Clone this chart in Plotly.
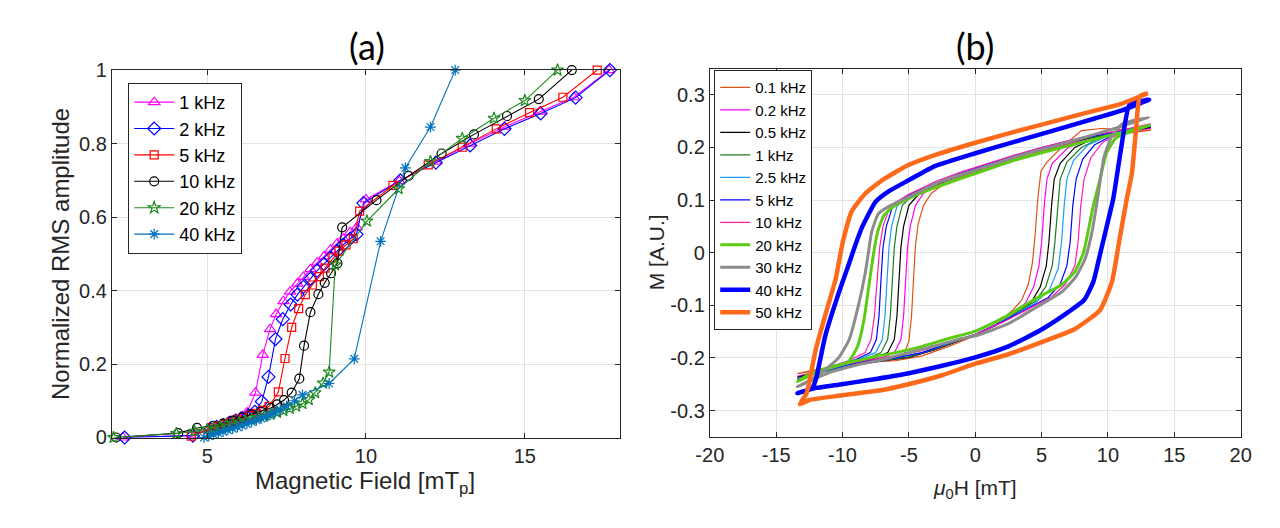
import plotly.graph_objects as go

# ---------- panel (a): normalized RMS amplitude vs field ----------
x_1k = [2.35, 4.6, 5.05, 5.25, 5.45, 5.65, 5.85, 6.05, 6.25, 6.52, 6.75, 6.98, 7.17, 7.4, 7.61, 7.84, 8.03,
        8.25, 8.46, 8.68, 8.88, 9.09, 9.28, 9.5, 9.71, 10.0, 11.05, 12.2, 13.28, 14.37, 15.48, 16.55, 17.65]
y_1k = [0.0, 0.006, 0.024, 0.029, 0.035, 0.041, 0.048, 0.056, 0.068, 0.122, 0.225, 0.295, 0.336, 0.371, 0.397,
        0.419, 0.437, 0.458, 0.476, 0.493, 0.511, 0.528, 0.541, 0.559, 0.572, 0.648, 0.698, 0.751, 0.8, 0.846,
        0.887, 0.926, 1.0]
x_2k = [2.4, 4.55, 5.1, 5.3, 5.5, 5.7, 5.9, 6.1, 6.3, 6.5, 6.72, 6.93, 7.15, 7.38, 7.63, 7.84, 8.03, 8.25, 8.46,
        8.68, 8.88, 9.09, 9.28, 9.5, 9.7, 9.92, 11.08, 12.2, 13.28, 14.36, 15.5, 16.6, 17.68]
y_2k = [0.0, 0.005, 0.024, 0.029, 0.034, 0.04, 0.046, 0.053, 0.06, 0.07, 0.098, 0.165, 0.268, 0.322, 0.362,
        0.389, 0.41, 0.432, 0.454, 0.472, 0.489, 0.507, 0.524, 0.541, 0.553, 0.638, 0.7, 0.748, 0.795, 0.84,
        0.882, 0.925, 1.0]
x_5k = [4.5, 5.15, 5.35, 5.55, 5.75, 5.95, 6.15, 6.35, 6.55, 6.75, 6.95, 7.24, 7.45, 7.66, 7.88, 8.09, 8.31,
        8.53, 8.71, 8.96, 9.15, 9.37, 9.6, 9.8, 10.85, 11.96, 13.03, 14.1, 15.15, 16.2, 17.28]
y_5k = [0.004, 0.026, 0.031, 0.036, 0.042, 0.048, 0.054, 0.06, 0.066, 0.074, 0.085, 0.124, 0.215, 0.3, 0.351,
        0.389, 0.415, 0.438, 0.461, 0.489, 0.507, 0.524, 0.541, 0.616, 0.686, 0.742, 0.79, 0.84, 0.884, 0.926, 1.0]
x_10k = [2.13, 4.09, 4.68, 5.2, 5.5, 5.8, 6.1, 6.4, 6.7, 7.0, 7.2, 7.42, 7.66, 7.9, 8.05, 8.25, 8.5, 8.7, 8.9,
         9.1, 9.25, 10.33, 11.34, 12.38, 13.4, 14.44, 15.44, 16.48]
y_10k = [0.0, 0.012, 0.026, 0.032, 0.038, 0.046, 0.054, 0.062, 0.07, 0.08, 0.09, 0.102, 0.122, 0.16, 0.25,
         0.341, 0.39, 0.421, 0.447, 0.474, 0.572, 0.646, 0.712, 0.773, 0.825, 0.875, 0.921, 1.0]
x_20k = [2.05, 4.03, 4.6, 5.0, 5.2, 5.4, 5.6, 5.8, 6.0, 6.2, 6.4, 6.6, 6.8, 7.0, 7.2, 7.4, 7.6, 7.8, 8.0, 8.2,
         8.4, 8.65, 8.84, 9.03, 10.03, 11.03, 12.03, 13.03, 14.03, 15.0, 16.03]
y_20k = [0.0, 0.011, 0.017, 0.022, 0.026, 0.03, 0.034, 0.038, 0.042, 0.046, 0.05, 0.054, 0.058, 0.063, 0.068,
         0.073, 0.079, 0.085, 0.092, 0.103, 0.122, 0.148, 0.178, 0.47, 0.589, 0.677, 0.751, 0.814, 0.869, 0.917, 1.0]
x_40k = [4.9, 5.05, 5.2, 5.35, 5.5, 5.65, 5.8, 5.95, 6.1, 6.25, 6.4, 6.55, 6.7, 6.85, 7.0, 7.15, 7.3, 7.5, 7.75,
         8.0, 8.84, 9.63, 10.46, 11.24, 12.03, 12.81]
y_40k = [0.0, 0.004, 0.008, 0.012, 0.016, 0.02, 0.024, 0.028, 0.032, 0.037, 0.042, 0.047, 0.052, 0.057, 0.063,
         0.069, 0.076, 0.086, 0.1, 0.116, 0.147, 0.214, 0.534, 0.734, 0.845, 1.0]

a_names = ["1 kHz", "2 kHz", "5 kHz", "10 kHz", "20 kHz", "40 kHz"]
a_xticks = [5, 10, 15]
a_yticks = [0, 0.2, 0.4, 0.6, 0.8, 1]
a_ylabels = ["0", "0.2", "0.4", "0.6", "0.8", "1"]

# ---------- panel (b): hysteresis loops (upper branch then lower branch) ----------
h_01k = [13.25, 11, 9, 7, 5, 3, 1, -1, -2.5, -3.3, -3.9, -4.3, -4.5, -4.65, -4.8, -5.0, -5.4, -6.5, -8, -10, -12, -13.4,
         -12, -10, -8, -6, -4, -2, 0, 1.5, 2.8, 3.5, 4.0, 4.3, 4.5, 4.7, 4.95, 5.4, 6.5, 8, 9.5, 11.5, 13.25]
m_01k = [0.233, 0.226, 0.217, 0.206, 0.193, 0.178, 0.162, 0.145, 0.128, 0.113, 0.09, 0.055, 0.015, -0.05, -0.12,
         -0.168, -0.195, -0.203, -0.21, -0.215, -0.222, -0.23,
         -0.224, -0.214, -0.208, -0.205, -0.196, -0.178, -0.158, -0.137, -0.11, -0.09, -0.06, -0.02, 0.03, 0.1,
         0.155, 0.172, 0.2, 0.232, 0.236, 0.234, 0.233]
h_02k = [13.2, 11, 9, 7, 5, 3, 1, -1, -3, -3.9, -4.5, -4.9, -5.1, -5.25, -5.4, -5.6, -6.1, -7, -9, -11, -13.4,
         -11, -9, -7, -5, -3, -1, 0, 1.5, 3, 3.8, 4.4, 4.8, 5.0, 5.2, 5.4, 5.8, 7, 9, 11, 13.2]
m_02k = [0.236, 0.228, 0.219, 0.208, 0.196, 0.181, 0.165, 0.148, 0.128, 0.113, 0.09, 0.05, 0.01, -0.05, -0.12,
         -0.165, -0.19, -0.2, -0.21, -0.22, -0.235,
         -0.222, -0.213, -0.206, -0.199, -0.184, -0.166, -0.156, -0.138, -0.115, -0.095, -0.065, -0.025, 0.02,
         0.09, 0.14, 0.17, 0.2, 0.22, 0.229, 0.236]
h_05k = [13.2, 11, 9, 7, 5, 3, 1, -1, -3, -4.2, -5, -5.4, -5.6, -5.75, -5.9, -6.1, -6.6, -7.5, -9, -11, -13.4,
         -11, -9, -7, -5, -3, -1, 0, 1.5, 3, 4.2, 4.9, 5.35, 5.55, 5.75, 5.95, 6.4, 7.5, 9, 11, 13.2]
m_05k = [0.238, 0.229, 0.22, 0.209, 0.196, 0.181, 0.165, 0.148, 0.129, 0.113, 0.09, 0.05, 0.01, -0.05, -0.12,
         -0.165, -0.19, -0.2, -0.208, -0.22, -0.237,
         -0.223, -0.212, -0.205, -0.199, -0.184, -0.166, -0.156, -0.139, -0.117, -0.095, -0.065, -0.025, 0.02,
         0.09, 0.14, 0.17, 0.2, 0.218, 0.229, 0.238]
h_1k = [13.2, 11, 9, 7, 5, 3, 1, -1, -3, -4.6, -5.5, -5.9, -6.1, -6.25, -6.4, -6.6, -7.1, -8, -9.5, -11, -13.4,
        -11, -9, -7, -5, -3, -1, 0, 1.5, 3, 4.5, 5.3, 5.8, 6.0, 6.2, 6.4, 6.9, 8, 9.5, 11, 13.2]
m_1k = [0.24, 0.23, 0.221, 0.21, 0.197, 0.182, 0.166, 0.149, 0.13, 0.112, 0.09, 0.05, 0.01, -0.05, -0.12, -0.165,
        -0.19, -0.2, -0.21, -0.221, -0.24,
        -0.224, -0.213, -0.205, -0.198, -0.183, -0.165, -0.155, -0.138, -0.116, -0.093, -0.065, -0.025, 0.02,
        0.09, 0.14, 0.172, 0.2, 0.22, 0.23, 0.24]
h_25k = [13.2, 11, 9, 7, 5, 3, 1, -1, -3, -5, -5.9, -6.3, -6.5, -6.65, -6.8, -7.0, -7.5, -8.5, -10, -11.5, -13.4,
         -11.5, -10, -8, -6, -4, -2, 0, 1.5, 3, 4.5, 5.6, 6.25, 6.5, 6.7, 6.9, 7.4, 8.5, 10, 11.5, 13.2]
m_25k = [0.241, 0.231, 0.222, 0.211, 0.198, 0.183, 0.167, 0.15, 0.131, 0.108, 0.088, 0.05, 0.01, -0.05, -0.12,
         -0.165, -0.19, -0.2, -0.212, -0.222, -0.24,
         -0.226, -0.216, -0.207, -0.2, -0.19, -0.172, -0.155, -0.138, -0.117, -0.096, -0.07, -0.03, 0.02, 0.09,
         0.14, 0.175, 0.205, 0.222, 0.232, 0.241]
h_5k = [13.2, 11, 9, 7, 5, 3, 1, -1, -3, -5, -6.2, -6.7, -6.95, -7.1, -7.25, -7.45, -7.9, -9, -10.5, -12, -13.4,
        -12, -10, -8, -6, -4, -2, 0, 2, 4, 5.5, 6.4, 6.9, 7.15, 7.35, 7.6, 8.1, 9, 10.5, 12, 13.2]
m_5k = [0.243, 0.232, 0.223, 0.212, 0.2, 0.185, 0.169, 0.152, 0.133, 0.11, 0.09, 0.05, 0.01, -0.05, -0.12,
        -0.165, -0.19, -0.203, -0.214, -0.225, -0.242,
        -0.228, -0.215, -0.206, -0.2, -0.19, -0.172, -0.155, -0.132, -0.105, -0.085, -0.06, -0.025, 0.02, 0.09,
        0.14, 0.178, 0.205, 0.225, 0.235, 0.243]
h_10k = [13.2, 11, 9, 7, 5, 3, 1, -1, -3, -5, -6.4, -6.95, -7.2, -7.4, -7.6, -7.85, -8.3, -9.5, -11, -12.3, -13.4,
         -12, -10, -8, -6, -4, -2, 0, 2, 4, 5.7, 6.8, 7.5, 7.75, 7.95, 8.2, 8.7, 9.6, 11, 12.2, 13.2]
m_10k = [0.245, 0.233, 0.224, 0.213, 0.2, 0.186, 0.17, 0.154, 0.135, 0.111, 0.09, 0.05, 0.01, -0.05, -0.12,
         -0.165, -0.19, -0.205, -0.217, -0.228, -0.243,
         -0.228, -0.214, -0.203, -0.196, -0.186, -0.17, -0.155, -0.133, -0.107, -0.085, -0.06, -0.025, 0.02,
         0.09, 0.14, 0.18, 0.21, 0.228, 0.238, 0.245]
h_20k = [13.1, 11, 9, 7, 5, 3, 1, -1, -3, -5, -6.2, -6.9, -7.35, -7.65, -8.0, -8.4, -8.9, -9.6, -11, -12.3, -13.4,
         -12, -10, -8, -6, -4, -2, 0, 2.1, 4.5, 6.5, 7.5, 8.15, 8.5, 8.9, 9.4, 9.9, 10.6, 12, 13.1]
m_20k = [0.242, 0.228, 0.216, 0.203, 0.19, 0.176, 0.159, 0.142, 0.124, 0.103, 0.087, 0.07, 0.04, 0.0, -0.06,
         -0.13, -0.18, -0.208, -0.218, -0.228, -0.245,
         -0.228, -0.212, -0.2, -0.19, -0.178, -0.163, -0.149, -0.124, -0.088, -0.061, -0.036, 0.0, 0.04, 0.09,
         0.14, 0.19, 0.218, 0.233, 0.242]
h_30k = [13.1, 11, 9, 7, 5, 3, 1, -1, -3, -5, -6.5, -7.3, -7.8, -8.05, -8.3, -8.8, -9.5, -10.3, -11.3, -12.3, -13.4,
         -12.3, -11, -9, -7, -5, -3, -1, 0, 2.5, 4.5, 6.5, 7.6, 8.3, 8.8, 9.2, 9.7, 10.3, 11.1, 13.1]
m_30k = [0.257, 0.24, 0.225, 0.21, 0.196, 0.182, 0.165, 0.149, 0.131, 0.106, 0.088, 0.074, 0.04, 0.0, -0.04,
         -0.1, -0.165, -0.2, -0.222, -0.24, -0.255,
         -0.242, -0.228, -0.214, -0.203, -0.19, -0.177, -0.163, -0.158, -0.135, -0.105, -0.075, -0.045, -0.01,
         0.04, 0.1, 0.182, 0.222, 0.245, 0.257]
h_40k = [13.1, 11, 9, 6, 3, 0, -3, -5, -6.5, -7.5, -8.5, -9.1, -9.5, -10.2, -11.3, -12, -12.3, -13.4,
         -12, -10.3, -8, -5, -2.5, 0, 2.5, 5, 7, 8.2, 8.9, 9.43, 10.0, 10.4, 11.0, 11.6, 12.3, 13.1]
m_40k = [0.291, 0.27, 0.255, 0.233, 0.211, 0.189, 0.165, 0.138, 0.117, 0.097, 0.05, 0.01, -0.02, -0.07, -0.158,
         -0.24, -0.258, -0.267,
         -0.257, -0.251, -0.242, -0.229, -0.215, -0.199, -0.178, -0.146, -0.113, -0.09, -0.055, 0.0, 0.06, 0.103,
         0.2, 0.28, 0.287, 0.291]
h_50k = [13.0, 11, 9, 6, 3, 0, -3, -5, -7, -8.3, -9.3, -10, -10.5, -11.2, -12, -12.5, -12.7, -13.2,
         -12.5, -10, -7, -5.35, -2.5, 0, 2.5, 5, 7.5, 9.4, 10.3, 10.9, 11.4, 11.8, 12.1, 12.4, 13.0]
m_50k = [0.303, 0.283, 0.27, 0.25, 0.23, 0.209, 0.186, 0.167, 0.138, 0.112, 0.079, 0.018, -0.048, -0.11, -0.182,
         -0.245, -0.267, -0.288,
         -0.28, -0.271, -0.261, -0.252, -0.233, -0.211, -0.193, -0.17, -0.145, -0.109, -0.055, 0.03, 0.1, 0.151,
         0.23, 0.297, 0.303]

b_names = ["0.1 kHz", "0.2 kHz", "0.5 kHz", "1 kHz", "2.5 kHz", "5 kHz", "10 kHz", "20 kHz", "30 kHz", "40 kHz",
           "50 kHz"]
b_xticks = [-20, -15, -10, -5, 0, 5, 10, 15, 20]
b_xlabels = ["-20", "-15", "-10", "-5", "0", "5", "10", "15", "20"]
b_yticks = [-0.3, -0.2, -0.1, 0, 0.1, 0.2, 0.3]
b_ylabels = ["-0.3", "-0.2", "-0.1", "0", "0.1", "0.2", "0.3"]

W, H = 1280, 528
AX = "#262626"
FONT = "Liberation Sans, Arial, sans-serif"

fig = go.Figure()

a_data = [(x_1k, y_1k), (x_2k, y_2k), (x_5k, y_5k), (x_10k, y_10k), (x_20k, y_20k), (x_40k, y_40k)]
a_colors = ["#FF00FF", "#0000FF", "#FF0000", "#000000", "#1F8A1F", "#0072BD"]
a_symbols = ["triangle-up-open", "diamond-open", "square-open", "circle-open", "star-open", "asterisk-open"]
a_sizes = [10, 10, 8, 9, 9, 9]
for (xs, ys), name, c, s, sz in zip(a_data, a_names, a_colors, a_symbols, a_sizes):
    fig.add_trace(go.Scatter(x=xs, y=ys, name=name, mode="lines+markers", xaxis="x", yaxis="y",
                             line=dict(color=c, width=1.1),
                             marker=dict(symbol=s, size=sz, color=c, line=dict(color=c, width=1.2)),
                             cliponaxis=False, legend="legend"))

b_data = [(h_01k, m_01k), (h_02k, m_02k), (h_05k, m_05k), (h_1k, m_1k), (h_25k, m_25k), (h_5k, m_5k),
          (h_10k, m_10k), (h_20k, m_20k), (h_30k, m_30k), (h_40k, m_40k), (h_50k, m_50k)]
b_colors = ["#D95319", "#FF00FF", "#000000", "#1F7A1F", "#1E9EF0", "#0000FF", "#FF1AB3", "#5CCC12",
            "#8C8C8C", "#0000FF", "#FF6A1A"]
b_widths = [1.2, 1.2, 1.2, 1.2, 1.2, 1.2, 1.2, 3, 3, 4.5, 4.5]
b_shapes = ["linear"] * 7 + ["spline"] * 4
for (hs, ms), name, c, w, sh in zip(b_data, b_names, b_colors, b_widths, b_shapes):
    fig.add_trace(go.Scatter(x=hs, y=ms, name=name, mode="lines", xaxis="x2", yaxis="y2",
                             line=dict(color=c, width=w, shape=sh, smoothing=0.5), legend="legend2"))


def ax(**kw):
    d = dict(showline=True, linecolor=AX, linewidth=1, mirror="ticks", ticks="inside", ticklen=5,
             tickcolor=AX, showgrid=True, gridcolor="#E3E3E3", gridwidth=1, zeroline=False,
             tickfont=dict(family=FONT, size=20, color=AX))
    d.update(kw)
    return d


fig.update_layout(
    width=W, height=H, margin=dict(l=0, r=0, t=0, b=0),
    paper_bgcolor="white", plot_bgcolor="white",
    xaxis=ax(domain=[91.7 / W, 610 / W], range=[2, 18], tickvals=a_xticks, anchor="y"),
    yaxis=ax(domain=[1 - 436.7 / H, 1 - 53.3 / H], range=[0, 1], tickvals=a_yticks, ticktext=a_ylabels,
             anchor="x"),
    xaxis2=ax(domain=[701.5 / W, 1243 / W], range=[-20, 20], tickvals=b_xticks, ticktext=b_xlabels,
              anchor="y2"),
    yaxis2=ax(domain=[1 - 436 / H, 1 - 51.7 / H], range=[-0.35, 0.35], tickvals=b_yticks, ticktext=b_ylabels,
              anchor="x2"),
    legend=dict(x=108.3 / W, y=1 - 66.7 / H, xanchor="left", yanchor="top", bgcolor="white",
                bordercolor=AX, borderwidth=1, font=dict(family=FONT, size=18, color="black"),
                itemwidth=40, tracegroupgap=0),
    legend2=dict(x=706 / W, y=1 - 53.3 / H, xanchor="left", yanchor="top", bgcolor="white",
                 bordercolor=AX, borderwidth=1, font=dict(family=FONT, size=15, color="black"),
                 itemwidth=30, tracegroupgap=0),
    showlegend=True,
)

annots = [
    dict(text="(a)", x=352 / W, y=1 - 28 / H, font=dict(family="Lato, sans-serif", size=36, color="black")),
    dict(text="(b)", x=972 / W, y=1 - 28 / H, font=dict(family="Lato, sans-serif", size=36, color="black")),
    dict(text="Normalized RMS amplitude", x=40 / W, y=1 - 245 / H, textangle=-90,
         font=dict(family=FONT, size=24, color=AX)),
    dict(text="Magnetic Field [mT<sub>p</sub>]", x=350 / W, y=1 - 484 / H,
         font=dict(family=FONT, size=24, color=AX)),
    dict(text="M [A.U.]", x=648 / W, y=1 - 243 / H, textangle=-90,
         font=dict(family=FONT, size=21, color=AX)),
    dict(text="<i>μ</i><sub>0</sub>H [mT]", x=972 / W, y=1 - 490 / H,
         font=dict(family=FONT, size=21, color=AX)),
]
for a in annots:
    fig.add_annotation(xref="paper", yref="paper", showarrow=False, xanchor="center", yanchor="middle", **a)

fig.write_html("out.html")
